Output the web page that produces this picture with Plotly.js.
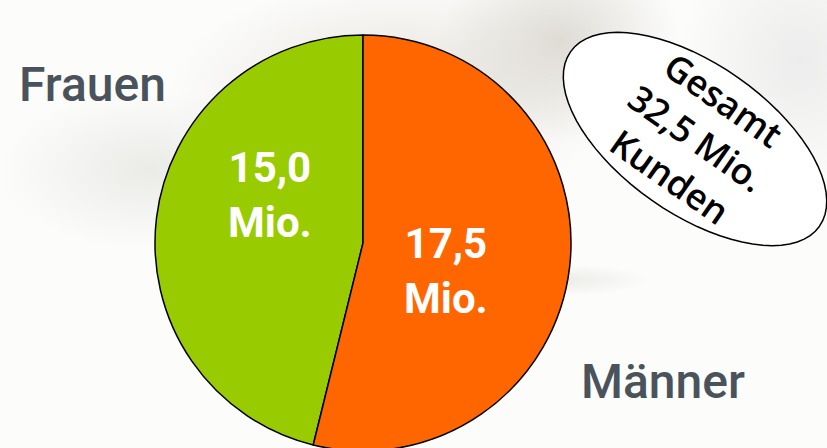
<!DOCTYPE html>
<html>
<head>
<meta charset="utf-8">
<script src="https://cdn.plot.ly/plotly-3.0.1.min.js"></script>
<style>
  html, body { margin: 0; padding: 0; overflow: hidden; width: 827px; height: 448px; }
  #wrap {
    position: relative; width: 827px; height: 448px; overflow: hidden;
    background:
      radial-gradient(ellipse 150px 80px at 150px 170px, rgba(220,220,215,0.55), rgba(255,255,255,0) 100%),
      radial-gradient(ellipse 230px 110px at 400px 90px, rgba(215,210,200,0.6), rgba(255,255,255,0) 100%),
      radial-gradient(ellipse 120px 100px at 560px 40px, rgba(200,195,185,0.55), rgba(255,255,255,0) 100%),
      radial-gradient(ellipse 120px 130px at 800px 60px, rgba(225,225,225,0.6), rgba(255,255,255,0) 100%),
      radial-gradient(ellipse 90px 16px at 560px 280px, rgba(210,210,200,0.4), rgba(255,255,255,0) 100%),
      #fcfcfb;
  }
  #chart { position: absolute; left: 0; top: 0; }
</style>
</head>
<body>
<div id="wrap"><div id="chart"></div></div>
<script>
var labels = ['Frauen', 'Männer'];
var values = [15.0, 17.5];
var colors = ['#99cc00', '#ff6600'];
var totalLabel = ['Gesamt', 'Mio.', 'Kunden'];

var W = 827, H = 470;
function px(x, y) { return {x: x / W, y: (H - y) / H}; }

function fmt(v) { return v.toFixed(1).replace('.', ','); }
var total = values.reduce(function (a, b) { return a + b; }, 0);

// pie: centre (363, 243), radius 208 px, Frauen to the left of 12 o'clock
var cx = 363, cy = 243, r = 208;

var trace = {
    type: 'pie',
    labels: labels,
    values: values,
    sort: false,
    direction: 'counterclockwise',
    rotation: -360 * values[0] / total,
    textinfo: 'none',
    hoverinfo: 'label+value',
    marker: {colors: colors, line: {color: '#000000', width: 1.5}},
    domain: {x: [(cx - r) / W, (cx + r) / W], y: [(H - cy - r) / H, (H - cy + r) / H]},
    showlegend: false
};

// rotated ellipse behind the total label
var ex = 695, ey = 139, ea = 152, eb = 75, eth = 35 * Math.PI / 180;
var path = '';
for (var i = 0; i <= 72; i++) {
    var t = i / 72 * 2 * Math.PI;
    var x = ex + ea * Math.cos(t) * Math.cos(eth) - eb * Math.sin(t) * Math.sin(eth);
    var y = ey + ea * Math.cos(t) * Math.sin(eth) + eb * Math.sin(t) * Math.cos(eth);
    var p = px(x, y);
    path += (i === 0 ? 'M ' : ' L ') + p.x.toFixed(5) + ',' + p.y.toFixed(5);
}
path += ' Z';

var catFont = {family: 'Roboto, sans-serif', size: 48, color: '#4a535b', weight: 500};
var valFont = {family: 'Roboto, sans-serif', size: 42, color: '#ffffff', weight: 700};

var pF = px(92, 84), pM = px(663, 381), pV0 = px(270, 195), pV1 = px(446, 271), pT = px(697, 138);

function note(text, p, font, angle) {
    return {text: text, x: p.x, y: p.y, xref: 'paper', yref: 'paper', xanchor: 'center', yanchor: 'middle',
            showarrow: false, font: font, textangle: angle || 0};
}

var layout = {
    width: W,
    height: H,
    margin: {l: 0, r: 0, t: 0, b: 0},
    paper_bgcolor: 'rgba(0,0,0,0)',
    plot_bgcolor: 'rgba(0,0,0,0)',
    shapes: [{
        type: 'path', xref: 'paper', yref: 'paper', path: path,
        fillcolor: '#ffffff', line: {color: '#000000', width: 1.5}, layer: 'above'
    }],
    annotations: [
        note(labels[0], pF, catFont),
        note(labels[1], pM, catFont),
        note(fmt(values[0]) + '<br>Mio.', pV0, valFont),
        note(fmt(values[1]) + '<br>Mio.', pV1, valFont),
        note(totalLabel[0] + '<br>' + fmt(total) + ' ' + totalLabel[1] + '<br>' + totalLabel[2], pT,
             {family: '"Open Sans", sans-serif', size: 36, color: '#000000', weight: 600}, 35)
    ]
};

Plotly.newPlot('chart', [trace], layout, {displayModeBar: false, staticPlot: true});
</script>
</body>
</html>
